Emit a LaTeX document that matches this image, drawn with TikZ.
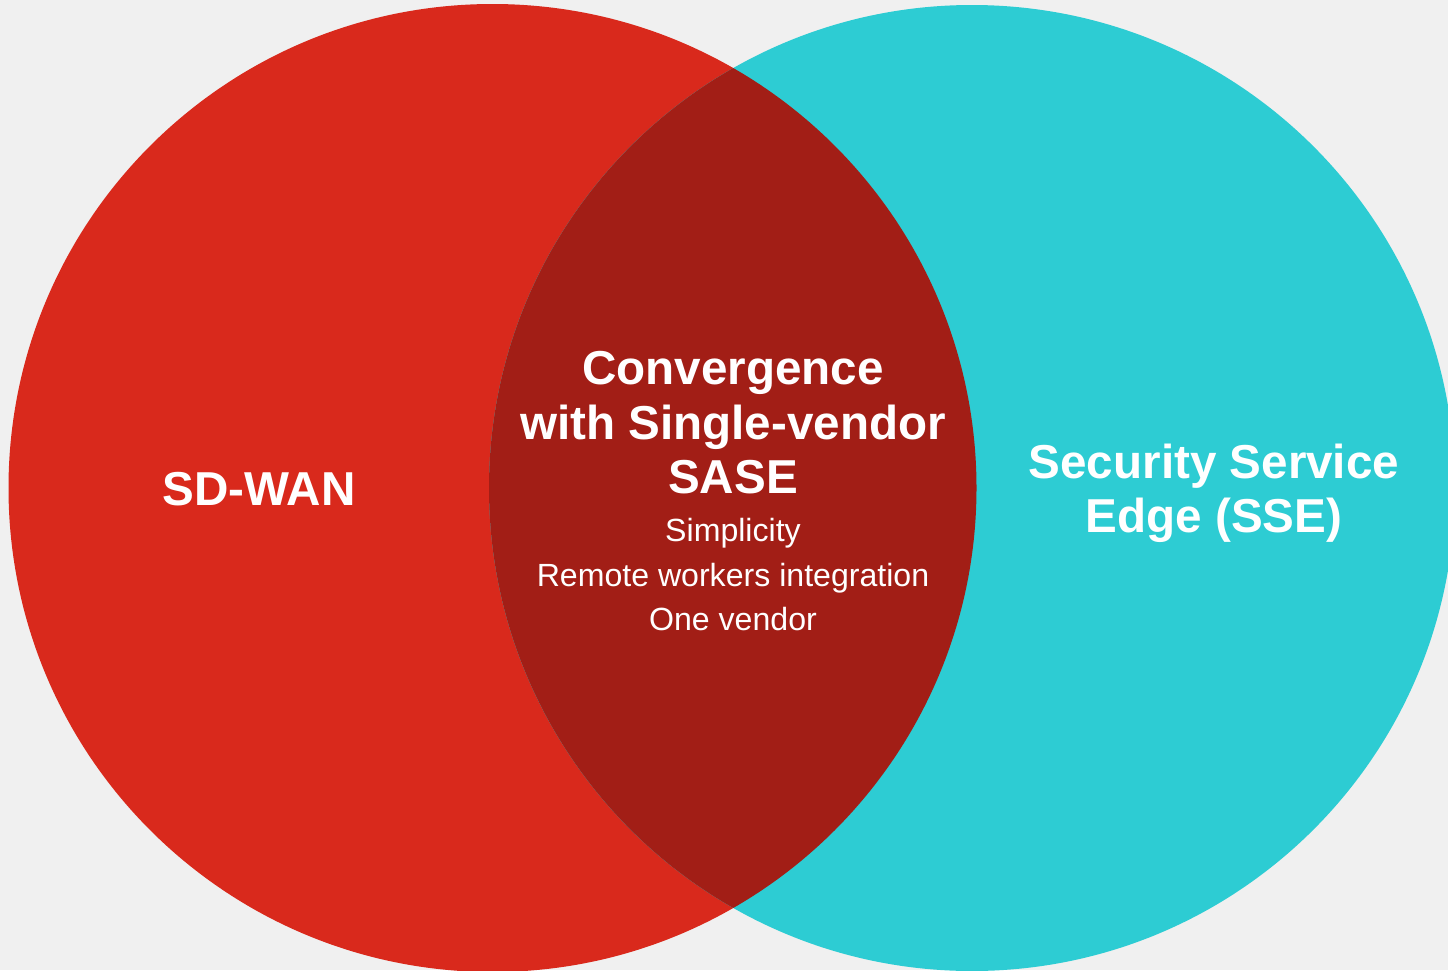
\documentclass[tikz,border=0pt]{standalone}
\usepackage{fontspec}
\setmainfont{Liberation Sans}
\definecolor{bg}{HTML}{F0F0F0}
\definecolor{wanred}{HTML}{D9291C}
\definecolor{ssecyan}{HTML}{2DCCD3}
\definecolor{overlap}{HTML}{A21E16}
\tikzset{
  bigtxt/.style={text=white, inner sep=0pt, anchor=base, font=\fontsize{47.6}{55}\selectfont\bfseries},
  smalltxt/.style={text=white, inner sep=0pt, anchor=base, font=\fontsize{32.1}{44}\selectfont},
}
\begin{document}
\begin{tikzpicture}[x=1pt,y=-1pt]
\useasboundingbox (0,0) rectangle (1448,970);
\fill[bg] (0,0) rectangle (1448,970);
\begin{scope}
\clip (0,0) rectangle (1448,970);
\fill[wanred] (492.5,488) circle[radius=484];
\fill[ssecyan] (972,488) circle[radius=483];
\begin{scope}
\clip (492.5,488) circle[radius=484];
\fill[overlap] (972,488) circle[radius=483];
\end{scope}
\end{scope}
\node[bigtxt] (sdwan) at (259,505) {SD-WAN};
\node[bigtxt] (sse1) at (1214,478) {Security Service};
\node[bigtxt] (sse2) at (1214,532) {Edge (SSE)};
\node[bigtxt] (c1) at (733,384) {Convergence};
\node[bigtxt] (c2) at (733,439) {with Single-vendor};
\node[bigtxt] (c3) at (733,493) {SASE};
\node[smalltxt] (s1) at (733,541) {Simplicity};
\node[smalltxt] (s2) at (733,586) {Remote workers integration};
\node[smalltxt] (s3) at (733,630) {One vendor};
\end{tikzpicture}
\end{document}
